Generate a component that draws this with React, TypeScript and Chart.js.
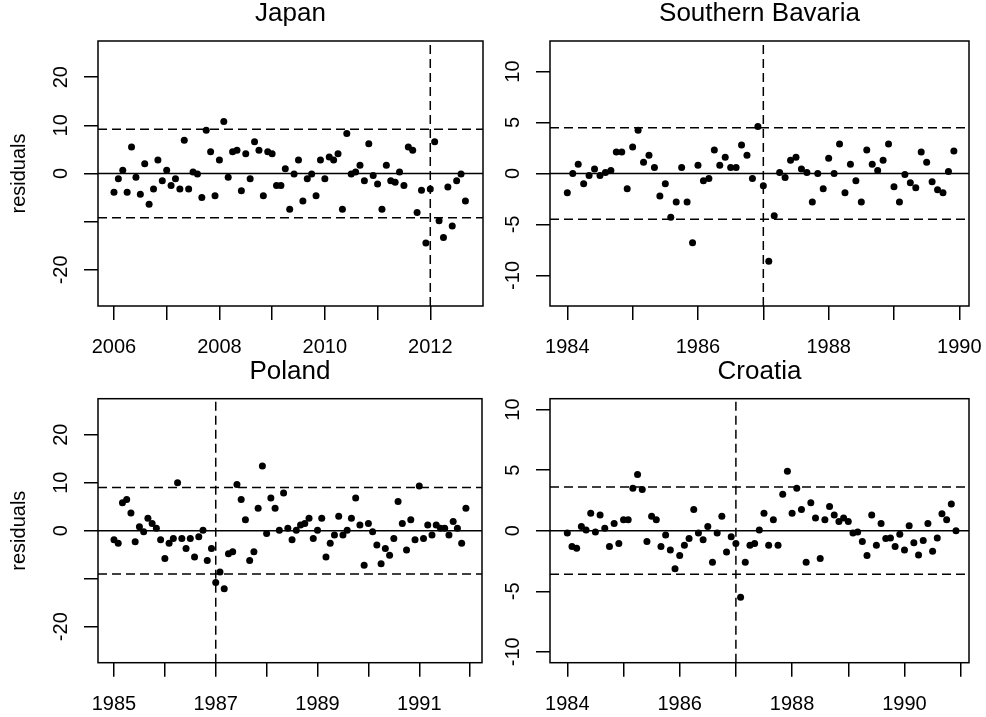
import React, { useEffect, useRef } from 'react';
import { Chart, registerables } from 'chart.js';

Chart.register(...registerables);

const FONT = '"Liberation Sans", Arial, Helvetica, sans-serif';

// ---------- data (monthly residuals) ----------
const japanStartYear = 2006;
const japanResiduals = [
  -3.9, -1.1, 0.7, -3.9, 5.5, -0.8, -4.3, 2.0, -6.4, -3.2, 2.8, -1.5,
  0.7, -2.5, -1.1, -3.2, 6.9, -3.2, 0.3, -0.1, -5.0, 9.0, 4.5, -4.6,
  2.8, 10.8, -0.8, 4.5, 4.8, -3.6, 4.1, -1.1, 6.6, 4.8, -4.6, 4.5,
  4.1, -2.5, -2.5, 1.0, -7.4, -0.1, 2.8, -5.7, -1.1, -0.1, -4.6, 2.8,
  -1.1, 3.4, 2.8, 4.1, -7.4, 8.3, -0.1, 0.3, 1.7, -1.5, 6.2, -0.4,
  -2.2, -7.4, 1.7, -1.5, -1.8, 0.3, -2.5, 5.5, 4.8, -8.1, -3.5, -14.4,
  -3.2, 6.6, -9.8, -13.3, -2.8, -10.9, -1.5, -0.1, -5.7,
];
const japanLimit = 9.2;
const japanBreak = 2012;
const japanXTicks = [2006, 2007, 2008, 2009, 2010, 2011, 2012];
const japanXLabels = [2006, 2008, 2010, 2012];
const japanYTicks = [-20, -10, 0, 10, 20];
const japanYLabels = [-20, 0, 10, 20];

const bavariaStartYear = 1984;
const bavariaResiduals = [
  -1.9, 0.0, 0.9, -1.0, -0.2, 0.45, -0.2, 0.1, 0.3, 2.1, 2.1, -1.5,
  2.6, 4.25, 1.1, 1.8, 0.6, -2.2, -1.0, -4.3, -2.8, 0.6, -2.8, -6.8,
  0.8, -0.7, -0.5, 2.3, 0.8, 1.6, 0.6, 0.6, 2.8, 1.8, -0.5, 4.6,
  -1.2, -8.6, -4.15, 0.1, -0.4, 1.3, 1.6, 0.45, 0.1, -2.8, 0.0, -1.5,
  1.5, 0.0, 2.9, -1.9, 0.9, -0.7, -2.8, 2.3, 0.9, 0.3, 1.3, 2.9,
  -1.3, -2.8, -0.1, -0.9, -1.4, 2.1, 1.1, -0.8, -1.6, -1.9, 0.2, 2.2,
];
const bavariaLimit = 4.5;
const bavariaBreak = 1987;
const bavariaXTicks = [1984, 1985, 1986, 1987, 1988, 1989, 1990];
const bavariaXLabels = [1984, 1986, 1988, 1990];
const bavariaYTicks = [-10, -5, 0, 5, 10];
const bavariaYLabels = [-10, -5, 0, 5, 10];

const polandStartYear = 1985;
const polandResiduals = [
  -1.9, -2.6, 5.8, 6.5, 3.7, -2.3, 0.8, -0.2, 2.6, 1.5, 0.5, -1.9,
  -5.8, -2.6, -1.6, 10.0, -1.6, -3.7, -1.6, -5.5, -1.25, 0.1, -6.2, -3.7,
  -10.8, -8.6, -12.1, -4.8, -4.4, 9.65, 6.5, 2.3, -6.2, -4.4, 4.7, 13.5,
  -0.6, 6.8, 4.7, 0.1, 7.85, 0.5, -1.9, 0.1, 1.2, 1.5, 2.6, -1.6,
  0.1, 2.6, -5.5, -2.6, -0.9, 3.0, -0.9, 0.1, 2.6, 6.8, 1.2, -7.2,
  1.5, -0.2, -3.0, -6.9, -3.7, -5.1, -1.6, 6.1, 1.5, -4.0, 2.3, -1.9,
  9.3, -1.6, 1.2, -0.9, 1.2, 0.5, 0.5, -0.9, 1.9, 0.5, -2.6, 4.7,
];
const polandLimit = 9.0;
const polandBreak = 1987;
const polandXTicks = [1985, 1986, 1987, 1988, 1989, 1990, 1991, 1992];
const polandXLabels = [1985, 1987, 1989, 1991];
const polandYTicks = [-20, -10, 0, 10, 20];
const polandYLabels = [-20, 0, 10, 20];

const croatiaStartYear = 1984;
const croatiaResiduals = [
  -0.2, -1.3, -1.45, 0.35, 0.05, 1.45, -0.1, 1.3, 0.2, -1.3, 0.6, -1.05,
  0.9, 0.9, 3.5, 4.65, 3.4, -0.9, 1.2, 0.9, -1.3, -0.35, -1.6, -3.15,
  -2.05, -1.2, -0.65, 1.75, -0.2, -0.75, 0.35, -2.6, -0.2, 1.2, -1.75, -0.5,
  -1.05, -5.5, -2.6, -1.2, -1.05, 0.05, 1.45, -1.2, 0.9, -1.2, 3.0, 4.9,
  1.45, 3.5, 1.75, -2.6, 2.3, 1.05, -2.3, 0.9, 2.0, 1.3, 0.75, 1.05,
  0.75, -0.2, -0.1, -0.9, -2.05, 1.3, -1.2, 0.6, -0.65, -0.6, -1.3, -0.3,
  -1.6, 0.4, -1.0, -2.0, -0.8, 0.6, -1.7, -0.6, 1.4, 0.9, 2.2, 0.0,
];
const croatiaLimit = 3.6;
const croatiaBreak = 1987;
const croatiaXTicks = [1984, 1985, 1986, 1987, 1988, 1989, 1990, 1991];
const croatiaXLabels = [1984, 1986, 1988, 1990];
const croatiaYTicks = [-10, -5, 0, 5, 10];
const croatiaYLabels = [-10, -5, 0, 5, 10];

// ---------- panel layout ----------
type Rect = { x: number; y: number; w: number; h: number };
type Box = { left: number; top: number; right: number; bottom: number };
type Panel = {
  title: string;
  start: number;
  values: number[];
  limit: number;
  breakYear: number;
  xMin: number;
  xMax: number;
  yMin: number;
  yMax: number;
  xTicks: number[];
  xLabels: number[];
  yTicks: number[];
  yLabels: number[];
  yTitle: string | null;
  rect: Rect;
  box: Box;
};

const panels: Panel[] = [
  {
    title: 'Japan', start: japanStartYear, values: japanResiduals, limit: japanLimit, breakYear: japanBreak,
    xMin: 2005.697, xMax: 2013.0, yMin: -27.5, yMax: 27.5,
    xTicks: japanXTicks, xLabels: japanXLabels, yTicks: japanYTicks, yLabels: japanYLabels,
    yTitle: 'residuals',
    rect: { x: 0, y: 0, w: 493, h: 358 }, box: { left: 98, top: 41, right: 483, bottom: 306 },
  },
  {
    title: 'Southern Bavaria', start: bavariaStartYear, values: bavariaResiduals, limit: bavariaLimit, breakYear: bavariaBreak,
    xMin: 1983.735, xMax: 1990.148, yMin: -13, yMax: 13,
    xTicks: bavariaXTicks, xLabels: bavariaXLabels, yTicks: bavariaYTicks, yLabels: bavariaYLabels,
    yTitle: null,
    rect: { x: 493, y: 0, w: 493, h: 358 }, box: { left: 550, top: 41, right: 969, bottom: 306 },
  },
  {
    title: 'Poland', start: polandStartYear, values: polandResiduals, limit: polandLimit, breakYear: polandBreak,
    xMin: 1984.686, xMax: 1992.233, yMin: -27.5, yMax: 27.5,
    xTicks: polandXTicks, xLabels: polandXLabels, yTicks: polandYTicks, yLabels: polandYLabels,
    yTitle: 'residuals',
    rect: { x: 0, y: 358, w: 493, h: 359 }, box: { left: 98, top: 398.7, right: 482, bottom: 662.7 },
  },
  {
    title: 'Croatia', start: croatiaStartYear, values: croatiaResiduals, limit: croatiaLimit, breakYear: croatiaBreak,
    xMin: 1983.692, xMax: 1991.148, yMin: -10.9, yMax: 10.9,
    xTicks: croatiaXTicks, xLabels: croatiaXLabels, yTicks: croatiaYTicks, yLabels: croatiaYLabels,
    yTitle: null,
    rect: { x: 493, y: 358, w: 493, h: 359 }, box: { left: 550, top: 398.7, right: 969, bottom: 662.7 },
  },
];

const LINE_W = 1.5;
const DASH = [9, 5];

function PanelChart({ p }: { p: Panel }) {
  const ref = useRef<HTMLCanvasElement | null>(null);

  useEffect(() => {
    const canvas = ref.current;
    if (!canvas) return;
    const points = p.values.map((v, i) => ({ x: p.start + i / 12, y: v }));

    const decor = {
      id: 'decor',
      afterDraw(chart: any) {
        const { ctx, chartArea: a, scales } = chart;
        ctx.save();
        ctx.strokeStyle = '#000';
        ctx.lineWidth = LINE_W;
        ctx.setLineDash([]);
        ctx.strokeRect(a.left, a.top, a.right - a.left, a.bottom - a.top);
        ctx.fillStyle = '#000';
        ctx.font = `20px ${FONT}`;
        ctx.textAlign = 'center';
        ctx.textBaseline = 'alphabetic';
        // x tick labels
        p.xLabels.forEach((v) => {
          const px = scales.x.getPixelForValue(v);
          ctx.fillText(String(v), px, a.bottom + 47);
        });
        // y tick labels, parallel to the axis
        p.yLabels.forEach((v) => {
          const py = scales.y.getPixelForValue(v);
          ctx.save();
          ctx.translate(a.left - 31, py);
          ctx.rotate(-Math.PI / 2);
          ctx.fillText(String(v), 0, 0);
          ctx.restore();
        });
        // title
        ctx.font = `26px ${FONT}`;
        ctx.fillText(p.title, (a.left + a.right) / 2, a.top - 20);
        // y axis title
        if (p.yTitle) {
          ctx.font = `20px ${FONT}`;
          ctx.save();
          ctx.translate(25, (a.top + a.bottom) / 2);
          ctx.rotate(-Math.PI / 2);
          ctx.fillText(p.yTitle, 0, 0);
          ctx.restore();
        }
        ctx.restore();
      },
    };

    const lineDs = (data: { x: number; y: number }[], dash: number[]) => ({
      data,
      showLine: true,
      borderColor: '#000',
      borderWidth: LINE_W,
      borderDash: dash,
      pointRadius: 0,
      fill: false,
    });

    const tickGrid = {
      display: true,
      drawOnChartArea: false,
      drawTicks: true,
      tickLength: 14,
      color: '#000',
      lineWidth: LINE_W,
    };

    const chart = new Chart(canvas, {
      type: 'scatter',
      data: {
        datasets: [
          {
            data: points,
            pointRadius: 3.5,
            pointBackgroundColor: '#000',
            pointBorderWidth: 0,
            showLine: false,
          } as any,
          lineDs([{ x: p.xMin, y: 0 }, { x: p.xMax, y: 0 }], []),
          lineDs([{ x: p.xMin, y: p.limit }, { x: p.xMax, y: p.limit }], DASH),
          lineDs([{ x: p.xMin, y: -p.limit }, { x: p.xMax, y: -p.limit }], DASH),
          lineDs([{ x: p.breakYear, y: p.yMin }, { x: p.breakYear, y: p.yMax }], DASH),
        ],
      },
      options: {
        animation: false,
        responsive: false,
        maintainAspectRatio: false,
        events: [],
        layout: {
          padding: {
            left: 0,
            top: p.box.top - p.rect.y,
            right: p.rect.x + p.rect.w - p.box.right,
            bottom: 0,
          },
        },
        plugins: {
          legend: { display: false },
          tooltip: { enabled: false },
          title: { display: false },
        },
        scales: {
          x: {
            type: 'linear',
            position: 'bottom',
            min: p.xMin,
            max: p.xMax,
            afterBuildTicks: (s: any) => {
              s.ticks = p.xTicks.map((v) => ({ value: v }));
            },
            afterFit: (s: any) => {
              s.height = p.rect.y + p.rect.h - p.box.bottom;
            },
            ticks: { display: false },
            grid: tickGrid,
            border: { display: false },
          },
          y: {
            type: 'linear',
            position: 'left',
            min: p.yMin,
            max: p.yMax,
            afterBuildTicks: (s: any) => {
              s.ticks = p.yTicks.map((v) => ({ value: v }));
            },
            afterFit: (s: any) => {
              s.width = p.box.left - p.rect.x;
            },
            ticks: { display: false },
            grid: tickGrid,
            border: { display: false },
          },
        },
      } as any,
      plugins: [decor],
    });
    return () => chart.destroy();
  }, [p]);

  return (
    <canvas
      ref={ref}
      width={p.rect.w}
      height={p.rect.h}
      style={{
        position: 'absolute',
        left: p.rect.x,
        top: p.rect.y,
        width: p.rect.w,
        height: p.rect.h,
      }}
    />
  );
}

export default function App() {
  useEffect(() => {
    document.body.style.margin = '0';
    document.body.style.background = '#fff';
  }, []);
  return (
    <div style={{ position: 'relative', width: 986, height: 717, background: '#fff', overflow: 'hidden' }}>
      {panels.map((p) => (
        <PanelChart key={p.title} p={p} />
      ))}
    </div>
  );
}
